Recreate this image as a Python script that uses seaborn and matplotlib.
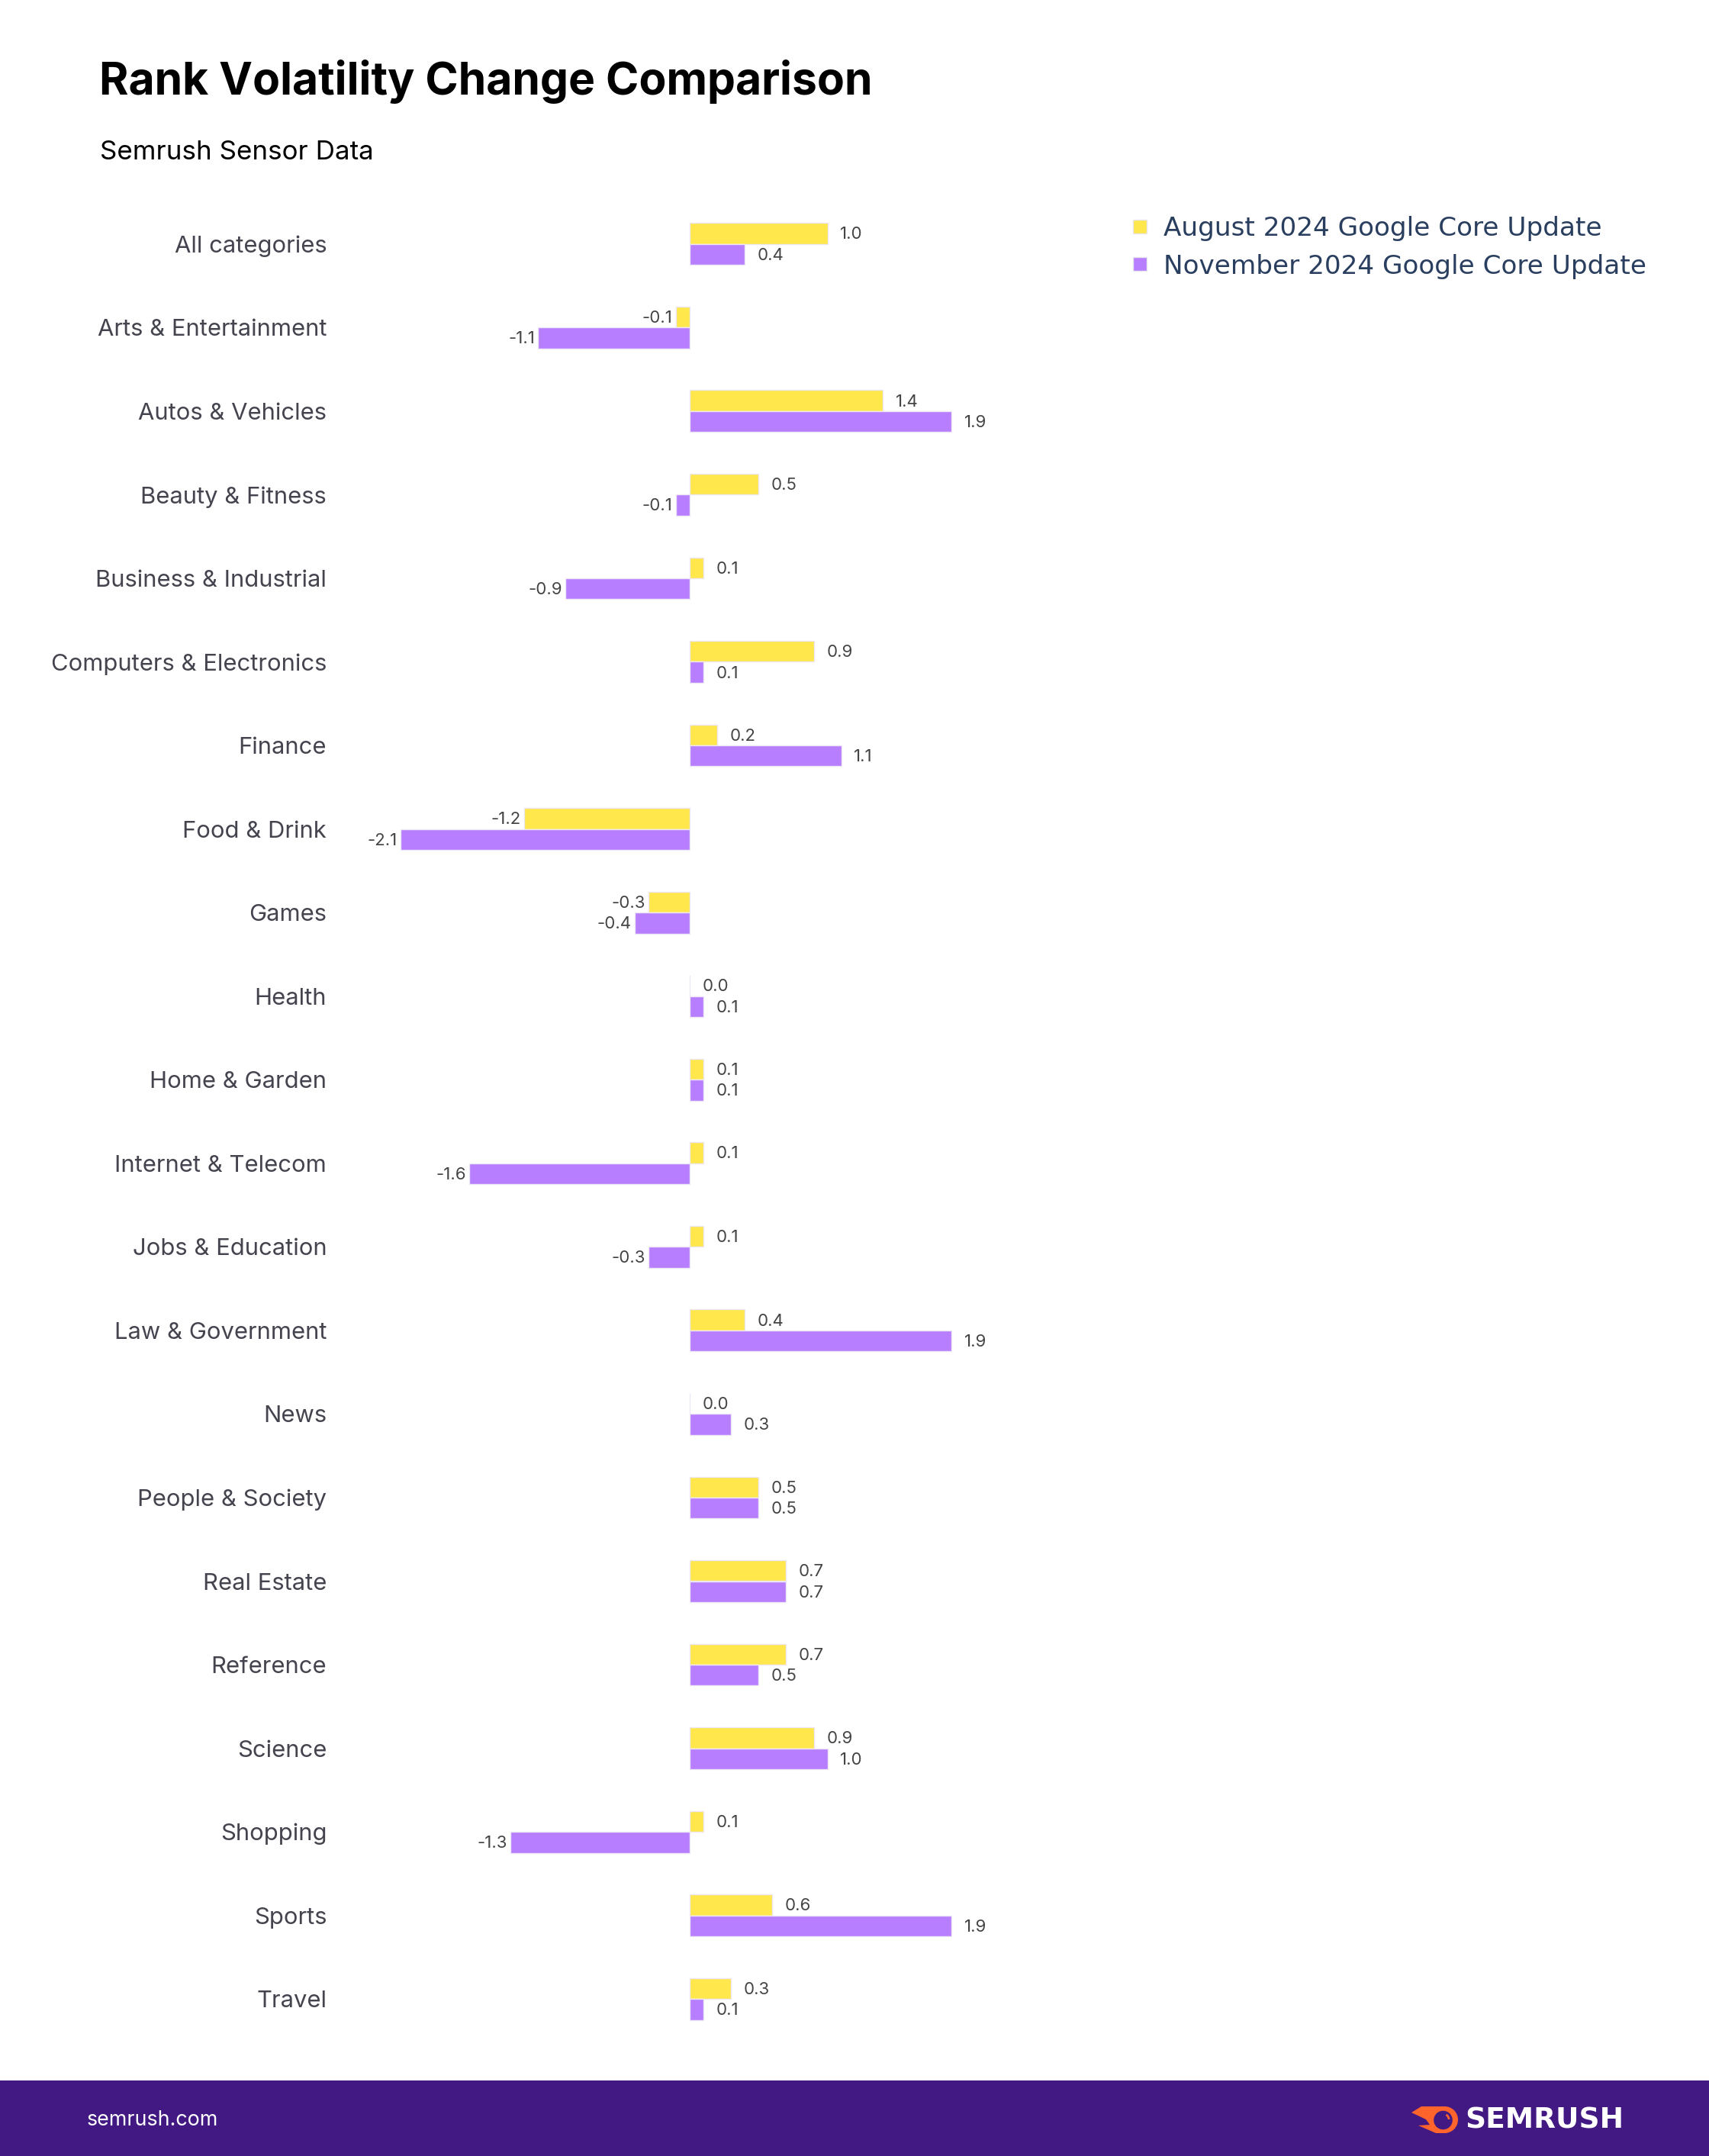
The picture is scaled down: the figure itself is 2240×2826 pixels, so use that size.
import numpy as np
import pandas as pd
import matplotlib
matplotlib.use("Agg")
import matplotlib.pyplot as plt
from matplotlib.patches import Rectangle, Circle, Polygon, Arc
import seaborn as sns

categories = ["All categories", "Arts & Entertainment", "Autos & Vehicles", "Beauty & Fitness",
              "Business & Industrial", "Computers & Electronics", "Finance", "Food & Drink", "Games",
              "Health", "Home & Garden", "Internet & Telecom", "Jobs & Education", "Law & Government",
              "News", "People & Society", "Real Estate", "Reference", "Science", "Shopping", "Sports",
              "Travel"]
august = [1.0, -0.1, 1.4, 0.5, 0.1, 0.9, 0.2, -1.2, -0.3, 0.0, 0.1, 0.1, 0.1, 0.4, 0.0, 0.5, 0.7, 0.7, 0.9, 0.1, 0.6, 0.3]
november = [0.4, -1.1, 1.9, -0.1, -0.9, 0.1, 1.1, -2.1, -0.4, 0.1, 0.1, -1.6, -0.3, 1.9, 0.3, 0.5, 0.7, 0.5, 1.0, -1.3, 1.9, 0.1]
series_names = ["August 2024 Google Core Update", "November 2024 Google Core Update"]
series_colors = ["#FFE74C", "#B77EFF"]

W, H = 2240, 2826
ZERO_X, PX_PER_UNIT = 904, 180.6
AX_L, AX_R, AX_T, AX_B = 440, 1420, 265, 2675

sns.set_style("white")
plt.rcParams["font.family"] = ["Inter", "DejaVu Sans"]

df = pd.DataFrame({
    "category": categories * 2,
    "value": august + november,
    "series": [series_names[0]] * 22 + [series_names[1]] * 22,
})

fig = plt.figure(figsize=(W / 100, H / 100), dpi=100)
ax = fig.add_axes([AX_L / W, 1 - AX_B / H, (AX_R - AX_L) / W, (AX_B - AX_T) / H])

sns.barplot(data=df, x="value", y="category", hue="series", palette=series_colors, width=0.5,
            saturation=1, edgecolor="#ECE6F5", linewidth=1, ax=ax, legend=False)

ax.set_xlim((AX_L - ZERO_X) / PX_PER_UNIT, (AX_R - ZERO_X) / PX_PER_UNIT)
ax.set(xlabel="", ylabel="", xticks=[])
sns.despine(ax=ax, left=True, bottom=True)
ax.tick_params(axis="y", length=0, pad=8.5, labelsize=22.3, labelcolor="#44444F")

# value labels, negative ones sit closer to the bar
for cont, vals in zip(ax.containers, [august, november]):
    for bar, v in zip(cont, vals):
        off = -3 if v < 0 else 12
        ax.annotate(f"{v:.1f}", (v, bar.get_y() + bar.get_height() / 2), xytext=(off, -1),
                    textcoords="offset points", va="center", ha="right" if v < 0 else "left",
                    fontsize=16, color="#444444")

# full figure overlay in pixel coords for title, legend and footer
ov = fig.add_axes([0, 0, 1, 1], zorder=5)
ov.set_xlim(0, W)
ov.set_ylim(H, 0)
ov.axis("off")

ov.text(130, 107, "Rank Volatility Change Comparison", fontsize=42.3, fontweight="bold", color="black", va="center")
ov.text(131, 200, "Semrush Sensor Data", fontsize=25.2, color="black", va="center")

for i, (name, col) in enumerate(zip(series_names, series_colors)):
    y = 297 + i * 49
    ov.add_patch(Rectangle((1485, y - 9), 18, 18, facecolor=col, edgecolor="#E6E6EE", lw=1))
    ov.text(1525, y + 3, name, fontsize=24.7, color="#2A3F5F", va="center", family="DejaVu Sans")

# footer band and logo
ov.add_patch(Rectangle((0, 2727), W, H - 2727, facecolor="#421983", edgecolor="none"))
ov.text(114, 2779, "semrush.com", fontsize=19.3, color="white", va="center")

ov.add_patch(Polygon([(1850, 2769), (1863, 2761), (1895, 2761), (1895, 2796), (1882, 2796),
                      (1859, 2786), (1874, 2785), (1869, 2778)], facecolor="#FF642D", edgecolor="none"))
ov.add_patch(Circle((1893.5, 2778.5), 17.5, facecolor="#FF642D", edgecolor="none"))
ov.add_patch(Circle((1891.5, 2779), 12.3, facecolor="#421983", edgecolor="none"))
ov.add_patch(Arc((1892, 2778), 14, 14, theta1=-60, theta2=0, color="#FF642D", lw=2))
ov.text(1920, 2780, "SEMRUSH", fontsize=27, fontweight="bold", color="white", va="center", family="DejaVu Sans")

fig.savefig("out.png", dpi=100, facecolor="white")
